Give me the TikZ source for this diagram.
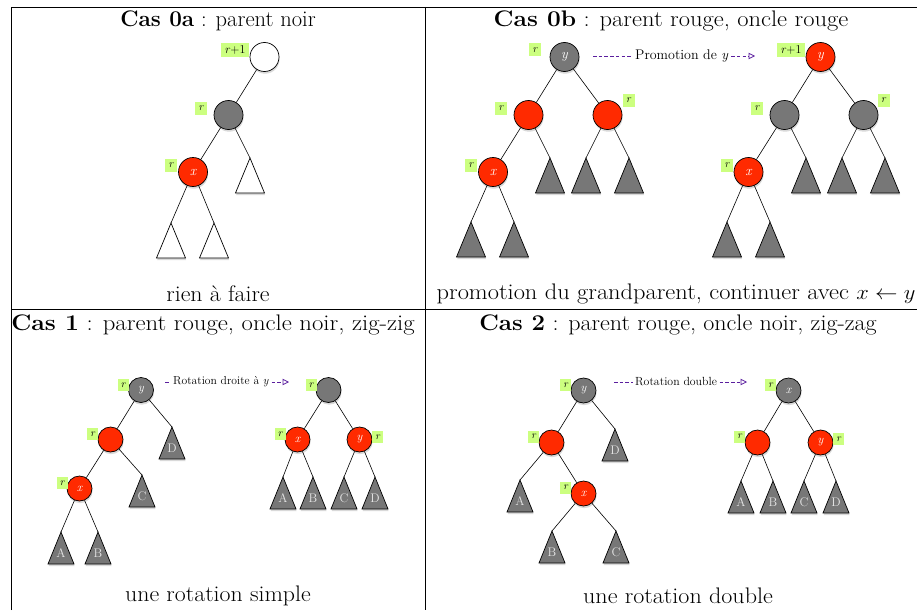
\documentclass[tikz,border=0pt]{standalone}
\usepackage{graphicx}
\usetikzlibrary{shadows,arrows.meta}
\definecolor{rbred}{HTML}{FF2A00}
\definecolor{rbgray}{HTML}{777777}
\definecolor{lblgreen}{HTML}{CCFF80}
\definecolor{purp}{HTML}{5A1E9E}
\definecolor{tletter}{HTML}{E6E6E6}
\tikzset{
  softshadow/.style={drop shadow={opacity=0.3, shadow xshift=0.6pt, shadow yshift=-2.2pt}},
  nbig/.style={circle, draw, line width=0.7pt, minimum size=29pt, inner sep=0pt, text=white,
    font=\fontsize{14}{14}\selectfont\itshape, softshadow},
  nsmall/.style={circle, draw, line width=0.7pt, minimum size=25pt, inner sep=0pt, text=white,
    font=\fontsize{12}{12}\selectfont\itshape, softshadow},
  rednode/.style={fill=rbred},
  graynode/.style={fill=rbgray},
  whitenode/.style={fill=white},
  lab/.style={fill=lblgreen, inner sep=0pt, minimum width=12pt, minimum height=13pt,
    font=\fontsize{11}{11}\selectfont\itshape},
  labs/.style={fill=lblgreen, inner sep=0pt, minimum width=11pt, minimum height=12pt,
    font=\fontsize{10.5}{10.5}\selectfont\itshape},
  labw/.style={lab, minimum width=28pt, minimum height=14pt, font=\fontsize{12}{12}\selectfont\itshape},
  edge/.style={line width=0.6pt},
  tristyle/.style={draw, line width=0.7pt, line join=miter, softshadow},
  tlet/.style={inner sep=0pt, text=tletter, font=\fontsize{12.5}{12.5}\selectfont},
  hdr/.style={inner sep=0pt, font=\fontsize{22.5}{26}\selectfont},
  gridline/.style={line width=0.8pt},
  pdash/.style={draw=purp, line width=0.7pt, dash pattern=on 3.5pt off 2.2pt},
  parrow/.style={pdash, -{Triangle[open, length=6.5pt, width=6.5pt, line width=0.8pt]}},
  atext/.style={inner sep=2.5pt, anchor=west},
}
\newcommand{\bigtri}[4]{\draw[tristyle, fill=#4] (#2,#3) coordinate (#1) -- ++(-14.5,35) -- ++(29,0) -- cycle;}
\newcommand{\smalltri}[4]{\draw[tristyle, fill=rbgray] (#2,#3) coordinate (#1) -- ++(-13,32) -- ++(26,0) -- cycle;
  \node[tlet] (#1l) at (#2,#3+21) {#4};}
\newcommand{\hs}[2]{\scalebox{#1}[1]{#2}}
\begin{document}
\begin{tikzpicture}[x=1pt, y=-1pt]
\useasboundingbox (0,0) rectangle (917,610);
% table
\draw[gridline] (11,610) -- (11,7) -- (917,7);
\draw[gridline] (425,7) -- (425,610);
\draw[gridline] (11,309.5) -- (917,309.5);
% headers and captions
\node[hdr] (h0a) at (218,21) {\textbf{Cas 0a} : parent noir};
\node[hdr] (h0b) at (671,21) {\hs{1.09}{\textbf{Cas 0b} : parent rouge, oncle rouge}};
\node[hdr] (c0a) at (218,294) {\hs{1.06}{rien à faire}};
\node[hdr] (c0b) at (676,294) {\hs{1.085}{promotion du grandparent, continuer avec $x \leftarrow y$}};
\node[hdr] (h1) at (213,325) {\hs{1.1}{\textbf{Cas 1} : parent rouge, oncle noir, zig-zig}};
\node[hdr] (h2) at (678,325) {\hs{1.07}{\textbf{Cas 2} : parent rouge, oncle noir, zig-zag}};
\node[hdr] (c1) at (218,596) {\hs{1.06}{une rotation simple}};
\node[hdr] (c2) at (678,596) {\hs{1.07}{une rotation double}};

% ---------- Cas 0a ----------
\bigtri{at1}{250}{158}{white}
\bigtri{at2}{171}{223}{white}
\bigtri{at3}{214}{223}{white}
\node[nbig, whitenode] (ar) at (264.5,57) {};
\node[labw] (arl) at (235,50) {r\textup{+1}};
\node[nbig, graynode] (ap) at (228.5,115) {};
\node[lab] (apl) at (201,108) {r};
\node[nbig, rednode] (ax) at (193,172) {x};
\node[lab] (axl) at (171,165) {r};
\draw[edge] (ar) -- (ap);
\draw[edge] (ap) -- (ax);
\draw[edge] (ap) -- (at1);
\draw[edge] (ax) -- (at2);
\draw[edge] (ax) -- (at3);

% ---------- Cas 0b left ----------
\bigtri{bt1}{550}{158}{rbgray}
\bigtri{bt2}{586}{158}{rbgray}
\bigtri{bt3}{629}{158}{rbgray}
\bigtri{bt4}{471}{222}{rbgray}
\bigtri{bt5}{514}{222}{rbgray}
\node[nbig, graynode] (by) at (564.5,57) {y};
\node[lab] (byl) at (535,50) {r};
\node[nbig, rednode] (bp) at (528.5,115) {};
\node[lab] (bpl) at (501,108) {r};
\node[nbig, rednode] (bu) at (607.5,115) {};
\node[lab] (bul) at (628.5,100) {r};
\node[nbig, rednode] (bx) at (493,172) {x};
\node[lab] (bxl) at (471,165) {r};
\draw[edge] (by) -- (bp);
\draw[edge] (by) -- (bu);
\draw[edge] (bp) -- (bx);
\draw[edge] (bp) -- (bt1);
\draw[edge] (bu) -- (bt2);
\draw[edge] (bu) -- (bt3);
\draw[edge] (bx) -- (bt4);
\draw[edge] (bx) -- (bt5);

% arrow 0b
\node[atext, font=\fontsize{14}{14}\selectfont] (pr) at (632.5,56) {Promotion de \textit{y}};
\coordinate (pra) at (593,56);
\coordinate (prb) at (755,56);
\draw[pdash] (pra) -- (pr.west);
\draw[parrow] (pr.east) -- (prb);

% ---------- Cas 0b right ----------
\bigtri{ct1}{806}{158}{rbgray}
\bigtri{ct2}{842}{158}{rbgray}
\bigtri{ct3}{885}{158}{rbgray}
\bigtri{ct4}{727}{222}{rbgray}
\bigtri{ct5}{770}{222}{rbgray}
\node[nbig, rednode] (cy) at (820.5,57) {y};
\node[labw] (cyl) at (791,50) {r\textup{+1}};
\node[nbig, graynode] (cp) at (784.5,115) {};
\node[lab] (cpl) at (757,108) {r};
\node[nbig, graynode] (cu) at (863.5,115) {};
\node[lab] (cul) at (883.5,100) {r};
\node[nbig, rednode] (cx) at (748.5,172) {x};
\node[lab] (cxl) at (727,165) {r};
\draw[edge] (cy) -- (cp);
\draw[edge] (cy) -- (cu);
\draw[edge] (cp) -- (cx);
\draw[edge] (cp) -- (ct1);
\draw[edge] (cu) -- (ct2);
\draw[edge] (cu) -- (ct3);
\draw[edge] (cx) -- (ct4);
\draw[edge] (cx) -- (ct5);

% ---------- Cas 1 left ----------
\smalltri{dD}{172}{427}{D}
\smalltri{dC}{142}{475}{C}
\smalltri{dA}{61}{532}{A}
\smalltri{dB}{98}{532}{B}
\node[nsmall, graynode] (dy) at (141,390) {y};
\node[labs] (dyl) at (123,385) {r};
\node[nsmall, rednode] (dp) at (110.5,439.5) {};
\node[labs] (dpl) at (92.5,434) {r};
\node[nsmall, rednode] (dx) at (79.5,488.5) {x};
\node[labs] (dxl) at (62,483) {r};
\draw[edge] (dy) -- (dp);
\draw[edge] (dy) -- (dD);
\draw[edge] (dp) -- (dx);
\draw[edge] (dp) -- (dC);
\draw[edge] (dx) -- (dA);
\draw[edge] (dx) -- (dB);

% arrow 1
\node[atext, font=\fontsize{11.6}{11.6}\selectfont] (rd) at (170.5,382) {Rotation droite à \textit{y}};
\coordinate (rda) at (165,382);
\coordinate (rdb) at (289,382);
\draw[pdash] (rda) -- (rd.west);
\draw[parrow] (rd.east) -- (rdb);

% ---------- Cas 1 right ----------
\smalltri{eA}{283}{477}{A}
\smalltri{eB}{313}{477}{B}
\smalltri{eC}{344}{477}{C}
\smalltri{eD}{375}{477}{D}
\node[nsmall, graynode] (er) at (328.5,390) {};
\node[labs] (erl) at (311,385) {r};
\node[nsmall, rednode] (ex) at (297.5,439.5) {x};
\node[labs] (exl) at (280,434) {r};
\node[nsmall, rednode] (ey) at (359.5,439.5) {y};
\node[labs] (eyl) at (377.5,437) {r};
\draw[edge] (er) -- (ex);
\draw[edge] (er) -- (ey);
\draw[edge] (ex) -- (eA);
\draw[edge] (ex) -- (eB);
\draw[edge] (ey) -- (eC);
\draw[edge] (ey) -- (eD);

% ---------- Cas 2 left ----------
\smalltri{fD}{615}{429}{D}
\smalltri{fA}{520}{480}{A}
\smalltri{fB}{552}{531}{B}
\smalltri{fC}{616}{531}{C}
\node[nsmall, graynode] (fy) at (583.5,390.5) {y};
\node[labs] (fyl) at (565.5,385) {r};
\node[nsmall, rednode] (fp) at (551.5,442.5) {};
\node[labs] (fpl) at (533.5,436.5) {r};
\node[nsmall, rednode] (fx) at (583.5,493.5) {x};
\node[labs] (fxl) at (565.5,487.5) {r};
\draw[edge] (fy) -- (fp);
\draw[edge] (fy) -- (fD);
\draw[edge] (fp) -- (fA);
\draw[edge] (fp) -- (fx);
\draw[edge] (fx) -- (fB);
\draw[edge] (fx) -- (fC);

% arrow 2
\node[atext, font=\fontsize{11.8}{11.8}\selectfont] (rdd) at (632.5,382) {Rotation double};
\coordinate (rdda) at (614,382);
\coordinate (rddb) at (747,382);
\draw[pdash] (rdda) -- (rdd.west);
\draw[parrow] (rdd.east) -- (rddb);

% ---------- Cas 2 right ----------
\smalltri{gA}{741}{481}{A}
\smalltri{gB}{773}{481}{B}
\smalltri{gC}{804}{481}{C}
\smalltri{gD}{836}{481}{D}
\node[nsmall, graynode] (gx) at (788.5,390.5) {x};
\node[labs] (gxl) at (770.5,385) {r};
\node[nsmall, rednode] (gp) at (757.5,442.5) {};
\node[labs] (gpl) at (739.5,436.5) {r};
\node[nsmall, rednode] (gy) at (820.5,442.5) {y};
\node[labs] (gyl) at (838.5,439) {r};
\draw[edge] (gx) -- (gp);
\draw[edge] (gx) -- (gy);
\draw[edge] (gp) -- (gA);
\draw[edge] (gp) -- (gB);
\draw[edge] (gy) -- (gC);
\draw[edge] (gy) -- (gD);
\end{tikzpicture}
\end{document}
